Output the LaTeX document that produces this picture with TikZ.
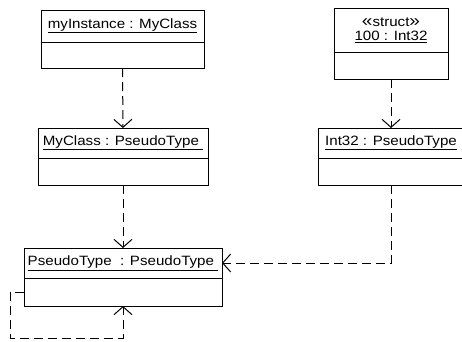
\documentclass[tikz,border=0pt]{standalone}
\usepackage{fontspec}
\newfontfamily\umlfont[FakeStretch=1.12]{Liberation Sans}
\usetikzlibrary{arrows.meta,positioning,calc}
\newcommand{\guil}[1]{{\fontsize{17}{14}\selectfont#1}}

\begin{document}
\begin{tikzpicture}[x=1pt,y=-1pt,
  objname/.style={draw,line width=1pt,anchor=north west,inner sep=0pt,outer sep=0pt,minimum height=30pt,font=\umlfont\fontsize{13.5}{14}\selectfont,align=center},
  objbody/.style={draw,line width=1pt,inner sep=0pt,outer sep=0pt,minimum height=27pt,below=0pt of #1},
  dep/.style={line width=1pt,dash pattern=on 9pt off 5pt,-{Straight Barb[length=8pt,width=18pt]}}]
\useasboundingbox (0,0) rectangle (462,341);
\clip (0,0) rectangle (462,341);

\node (myinst) at (41,10)[objname,minimum width=163pt,minimum height=32pt] {\underline{myInstance : MyClass}};
\node (myinstB)[objbody=myinst,minimum width=163pt,minimum height=26pt] {};

\node (strct) at (334,8)[objname,minimum width=114pt,minimum height=44pt] {\guil{«}struct\guil{»}\\\underline{100 : Int32}};
\node (strctB)[objbody=strct,minimum width=114pt] {};

\node (mycls) at (38,128)[objname,minimum width=170pt] {\underline{MyClass : PseudoType\ }};
\node (myclsB)[objbody=mycls,minimum width=170pt] {};

\node (intcls) at (318,128)[objname,minimum width=146pt] {\underline{Int32 : PseudoType}};
\node (intclsB)[objbody=intcls,minimum width=146pt] {};

\node (pseudo) at (24,248)[objname,minimum width=198pt] {\underline{PseudoType\ \ : PseudoType\ }};
\node (pseudoB)[objbody=pseudo,minimum width=198pt,minimum height=28pt] {};

\draw[dep] (myinstB) -- (mycls);
\draw[dep] (strctB) -- (intcls);
\draw[dep] (myclsB) -- (pseudo);
\draw[dep] (intclsB.south) |- (pseudo.east);
\draw[dep] (pseudoB.west) -- ++(-14pt,0) |- ([yshift=-32pt]pseudoB.south) -- (pseudoB.south);
\end{tikzpicture}
\end{document}
